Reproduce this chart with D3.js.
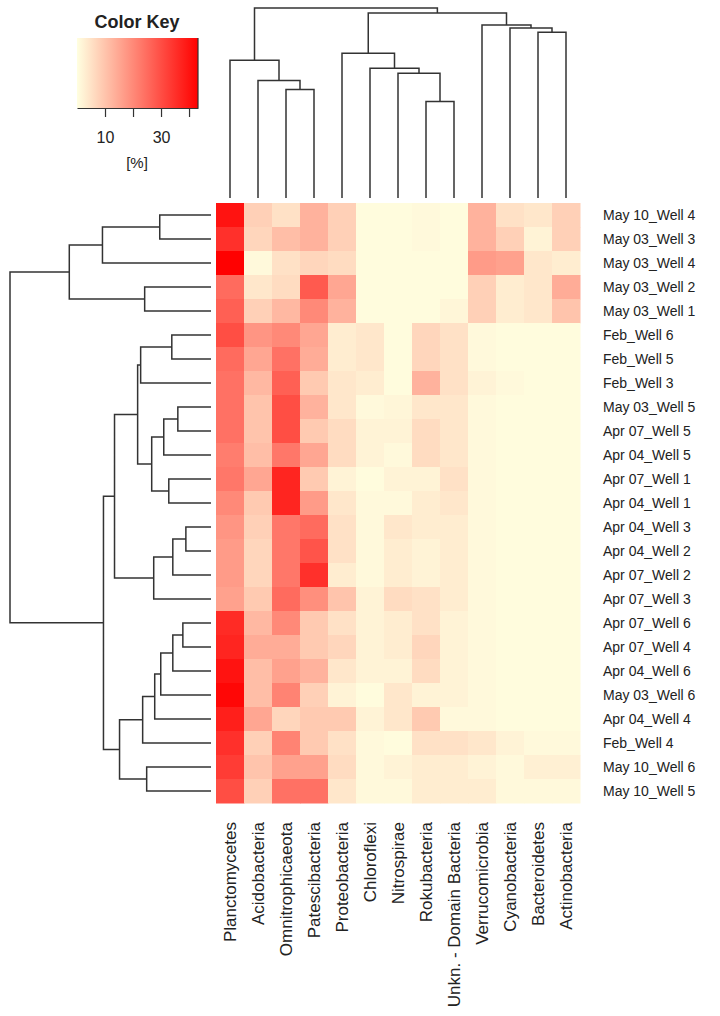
<!DOCTYPE html>
<html>
<head>
<meta charset="utf-8">
<script src="https://cdn.jsdelivr.net/npm/d3@7"></script>
<style>
  body { margin: 0; background: #fff; }
  text { font-family: "Liberation Sans", Arial, sans-serif; fill: #222; }
</style>
</head>
<body>
<div id="chart"></div>
<script>
// heatmap of phyla (columns) by sample (rows), values in [%]

var taxa = ['Planctomycetes', 'Acidobacteria', 'Omnitrophicaeota', 'Patescibacteria',
  'Proteobacteria', 'Chloroflexi', 'Nitrospirae', 'Rokubacteria', 'Unkn. - Domain Bacteria',
  'Verrucomicrobia', 'Cyanobacteria', 'Bacteroidetes', 'Actinobacteria'];

var samples = ['May 10_Well 4', 'May 03_Well 3', 'May 03_Well 4', 'May 03_Well 2', 'May 03_Well 1',
  'Feb_Well 6', 'Feb_Well 5', 'Feb_Well 3', 'May 03_Well 5', 'Apr 07_Well 5', 'Apr 04_Well 5',
  'Apr 07_Well 1', 'Apr 04_Well 1', 'Apr 04_Well 3', 'Apr 04_Well 2', 'Apr 07_Well 2',
  'Apr 07_Well 3', 'Apr 07_Well 6', 'Apr 07_Well 4', 'Apr 04_Well 6', 'May 03_Well 6',
  'Apr 04_Well 4', 'Feb_Well 4', 'May 10_Well 6', 'May 10_Well 5'];

// one row per sample, one value per taxon
var values = [
  [40, 8, 5, 13, 8, 0.5, 0.5, 1, 0.5, 13, 5, 4, 8],
  [35, 7, 11, 13, 8, 0.5, 0.5, 1, 0.5, 13, 8, 2, 8],
  [43, 1, 5, 7, 6, 0.5, 0.5, 0.5, 0.5, 17, 16, 4, 3],
  [25, 4, 6, 28, 15, 0.5, 0.5, 0.5, 0.5, 8, 3, 4, 14],
  [27, 8, 12, 20, 13, 0.5, 0.5, 0.5, 1.5, 8, 3, 4, 10],
  [30, 18, 20, 15, 3, 4, 0.5, 7, 5, 1, 0.5, 0.5, 0.5],
  [25, 15, 24, 14, 3, 4, 0.5, 7, 5, 1, 0.5, 0.5, 0.5],
  [24, 12, 27, 9, 4, 3, 0.5, 13, 5, 2, 1, 0.5, 0.5],
  [24, 10, 30, 13, 4, 1, 1.5, 4, 4, 1, 0.5, 0.5, 0.5],
  [24, 10, 30, 9, 6, 2, 2, 6, 4, 1, 0.5, 0.5, 0.5],
  [22, 11, 23, 15, 6, 2, 1, 6, 4, 1, 0.5, 0.5, 0.5],
  [23, 15, 37, 9, 2, 0.5, 2, 2, 5, 1, 0.5, 0.5, 0.5],
  [20, 9, 37, 17, 4, 1, 1, 3, 4, 1, 0.5, 0.5, 0.5],
  [18, 8, 23, 25, 5, 1, 4, 3, 3, 1, 0.5, 0.5, 0.5],
  [17, 7, 23, 29, 5, 1, 3, 2, 3, 1, 0.5, 0.5, 0.5],
  [17, 7, 23, 35, 3, 1, 3, 2, 3, 1, 0.5, 0.5, 0.5],
  [16, 9, 25, 19, 10, 2, 6, 5, 3, 1, 0.5, 0.5, 0.5],
  [36, 12, 20, 9, 5, 2, 3, 5, 2, 1, 0.5, 0.5, 0.5],
  [37, 14, 14, 9, 7, 2, 3, 7, 2, 1, 0.5, 0.5, 0.5],
  [40, 11, 16, 13, 4, 2, 2, 6, 2, 1, 0.5, 0.5, 0.5],
  [42, 11, 21, 8, 2, 0.5, 4, 2, 2, 1, 0.5, 0.5, 0.5],
  [38, 15, 7, 9, 9, 2, 4, 9, 1, 1, 0.5, 0.5, 0.5],
  [35, 8, 21, 9, 5, 1, 0.5, 5, 5, 4, 2, 1, 1],
  [33, 10, 16, 16, 6, 1, 2, 3, 3, 2, 1, 2.5, 2.5],
  [30, 8, 24, 24, 4, 1, 1, 3, 3, 3, 1, 1, 1]
];

// dendrograms as nested [left, right, height]; plain numbers are leaf indices
var rowDendro = [
  [[[0, 1, 51], 2, 108], [3, 4, 66], 141],
  [
    [
      [[[5, 6, 39], 7, 70], [[[8, 9, 33], 10, 47], [11, 12, 42], 59], 73],
      [[[13, 14, 25], 15, 38], 16, 57],
      96
    ],
    [[[[[[17, 18, 28], 19, 38], 20, 50], 21, 56], 22, 68], [23, 24, 64], 91],
    107
  ],
  200
];

var colDendro = [
  [0, [1, [2, 3, 108], 117], 137],
  [
    [4, [5, [6, [7, 8, 96], 124], 129], 144],
    [9, [10, [11, 12, 165], 169], 172],
    184
  ],
  189
];

var keyTicks = [10, 20, 30, 40];
var keyLabels = [10, 30];
var keyMax = 43.2;

var width = 720, height = 1016;

var svg = d3.select('#chart').append('svg')
  .attr('width', width)
  .attr('height', height);

var x = d3.scaleBand().domain(d3.range(taxa.length)).range([216, 580]);
var y = d3.scaleBand().domain(d3.range(samples.length)).range([203, 803]);

var color = d3.scaleLinear()
  .domain([0, keyMax])
  .range(['#FFFFE0', '#FF0000'])
  .interpolate(d3.interpolateRgb)
  .clamp(true);

// cells
var cells = [];
values.forEach(function(row, i) {
  row.forEach(function(v, j) {
    cells.push({ row: i, col: j, value: v });
  });
});

svg.append('g').selectAll('rect')
  .data(cells)
  .enter().append('rect')
  .attr('x', function(d) { return x(d.col); })
  .attr('y', function(d) { return y(d.row); })
  .attr('width', x.bandwidth() + 0.5)
  .attr('height', y.bandwidth() + 0.5)
  .attr('fill', function(d) { return color(d.value); });

// row labels
svg.append('g').selectAll('text')
  .data(samples)
  .enter().append('text')
  .attr('x', 603)
  .attr('y', function(d, i) { return y(i) + y.bandwidth() / 2; })
  .attr('dy', '0.35em')
  .style('font-size', '14px')
  .text(function(d) { return d; });

// column labels
svg.append('g').selectAll('text')
  .data(taxa)
  .enter().append('text')
  .attr('transform', function(d, i) {
    return 'translate(' + (x(i) + x.bandwidth() / 2) + ',822) rotate(-90)';
  })
  .attr('dy', '0.35em')
  .attr('text-anchor', 'end')
  .style('font-size', '17px')
  .text(function(d) { return d; });

// dendrograms
function kids(d) { return Array.isArray(d) ? [d[0], d[1]] : null; }

function drawDendro(tree, leafPos, hScale, horizontal) {
  var root = d3.hierarchy(tree, kids);
  // leaf position from band scale, parents at the mean of their children
  root.eachAfter(function(n) {
    if (n.children) {
      n.pos = (n.children[0].pos + n.children[1].pos) / 2;
      n.h = n.data[2];
    } else {
      n.pos = leafPos(n.data);
      n.h = 0;
    }
  });

  var path = d3.path();
  root.each(function(n) {
    if (!n.children) return;
    var a = n.children[0], b = n.children[1];
    if (horizontal) {
      path.moveTo(hScale(a.h), a.pos);
      path.lineTo(hScale(n.h), a.pos);
      path.lineTo(hScale(n.h), b.pos);
      path.lineTo(hScale(b.h), b.pos);
    } else {
      path.moveTo(a.pos, hScale(a.h));
      path.lineTo(a.pos, hScale(n.h));
      path.lineTo(b.pos, hScale(n.h));
      path.lineTo(b.pos, hScale(b.h));
    }
  });

  svg.append('path')
    .attr('d', path.toString())
    .attr('fill', 'none')
    .attr('stroke', '#333')
    .attr('stroke-width', 1.5);
}

drawDendro(rowDendro,
  function(i) { return y(i) + y.bandwidth() / 2; },
  d3.scaleLinear().domain([0, 200]).range([211, 10]),
  true);

drawDendro(colDendro,
  function(i) { return x(i) + x.bandwidth() / 2; },
  d3.scaleLinear().domain([0, 189]).range([198, 8]),
  false);

// color key
var keyX = d3.scaleLinear().domain([0, keyMax]).range([77, 198]);
var keyTop = 38, keyBottom = 108;

var grad = svg.append('defs').append('linearGradient')
  .attr('id', 'keygrad');
grad.selectAll('stop')
  .data(d3.range(0, 1.0001, 0.1))
  .enter().append('stop')
  .attr('offset', function(d) { return d; })
  .attr('stop-color', function(d) { return color(d * keyMax); });

svg.append('rect')
  .attr('x', keyX(0))
  .attr('y', keyTop)
  .attr('width', keyX(keyMax) - keyX(0))
  .attr('height', keyBottom - keyTop)
  .attr('fill', 'url(#keygrad)');

svg.append('path')
  .attr('d', 'M' + keyX(keyMax) + ',' + keyTop + 'V' + keyBottom)
  .attr('stroke', '#333')
  .attr('stroke-width', 1.2);

var keyAxis = svg.append('g')
  .attr('transform', 'translate(0,' + keyBottom + ')')
  .call(d3.axisBottom(keyX)
    .tickValues(keyTicks)
    .tickSize(9)
    .tickSizeOuter(0)
    .tickPadding(15)
    .tickFormat(function(d) { return keyLabels.indexOf(d) >= 0 ? d : ''; }));

keyAxis.selectAll('path, line').attr('stroke', '#333').attr('stroke-width', 1.2);
keyAxis.selectAll('text')
  .style('font-size', '16px')
  .style('font-family', '"Liberation Sans", Arial, sans-serif')
  .attr('fill', '#222');

svg.append('text')
  .attr('x', 137)
  .attr('y', 28)
  .attr('text-anchor', 'middle')
  .style('font-size', '18px')
  .style('font-weight', 'bold')
  .text('Color Key');

svg.append('text')
  .attr('x', 137)
  .attr('y', 168)
  .attr('text-anchor', 'middle')
  .style('font-size', '15px')
  .text('[%]');
</script>
</body>
</html>
